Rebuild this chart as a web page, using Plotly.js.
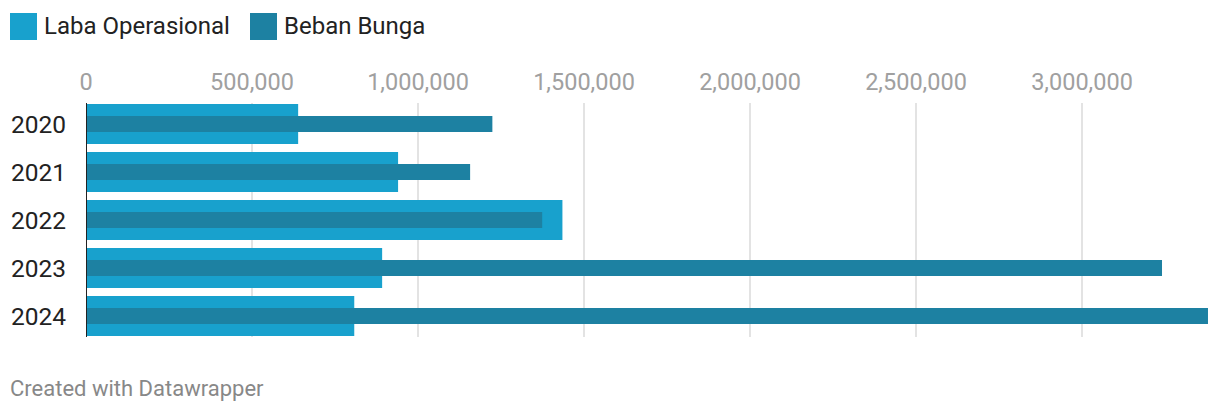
<!DOCTYPE html>
<html>
<head>
<meta charset="utf-8">
<script src="https://cdn.plot.ly/plotly-3.0.1.min.js"></script>
<style>
html,body{margin:0;padding:0;background:#fff;}
#chart{width:1220px;height:414px;}
</style>
</head>
<body>
<div id="chart"></div>
<script>
const years = ['2020', '2021', '2022', '2023', '2024'];
const labaOperasional = [639000, 940000, 1435000, 892000, 808000];
const bebanBunga = [1224000, 1157000, 1374000, 3241000, 3379500];
const seriesNames = ['Laba Operasional', 'Beban Bunga'];
const seriesColors = ['#18a1cd', '#1d81a2'];
const tickValues = [0, 500000, 1000000, 1500000, 2000000, 2500000, 3000000];

const traces = [
  {
    type: 'bar', orientation: 'h', name: seriesNames[0],
    y: years, x: labaOperasional, width: 0.833,
    marker: {color: seriesColors[0]}, hoverinfo: 'x+y'
  },
  {
    type: 'bar', orientation: 'h', name: seriesNames[1],
    y: years, x: bebanBunga, width: 0.333,
    marker: {color: seriesColors[1]}, hoverinfo: 'x+y'
  }
];

const legendShapes = [];
const legendAnn = [];
const legendX = [10, 250];
seriesNames.forEach((n, i) => {
  legendShapes.push({
    type: 'rect', xref: 'paper', yref: 'paper',
    x0: (legendX[i] - 86) / 1122, x1: (legendX[i] + 27 - 86) / 1122,
    y0: (414 - 77 - 40) / 234, y1: (414 - 77 - 13) / 234,
    fillcolor: seriesColors[i], line: {width: 0}
  });
  legendAnn.push({
    xref: 'paper', yref: 'paper',
    x: (legendX[i] + 32 - 86) / 1122, y: (414 - 77 - 26) / 234,
    xanchor: 'left', yanchor: 'middle', showarrow: false,
    text: n, font: {family: 'Roboto', size: 24, color: '#222'}
  });
});
legendAnn.push({
  xref: 'paper', yref: 'paper',
  x: (8 - 86) / 1122, y: (414 - 77 - 388) / 234,
  xanchor: 'left', yanchor: 'middle', showarrow: false,
  text: 'Created with Datawrapper', font: {family: 'Roboto', size: 22, color: '#888'}
});

const layout = {
  width: 1220, height: 414,
  margin: {l: 86, r: 12, t: 103, b: 77, pad: 0},
  paper_bgcolor: '#fff', plot_bgcolor: '#fff',
  font: {family: 'Roboto', color: '#222'},
  barmode: 'overlay',
  showlegend: false,
  xaxis: {
    side: 'top', range: [0, 3379518], tickvals: tickValues,
    tickformat: ',d', showgrid: true, gridcolor: '#e3e3e3', gridwidth: 2,
    zeroline: false, showline: false, ticks: '',
    tickfont: {family: 'Roboto', size: 23.5, color: '#a0a0a0'},
    ticklabelstandoff: 7, fixedrange: true
  },
  yaxis: {
    type: 'category', range: [4.4375, -0.4375],
    showgrid: false, zeroline: false, showline: false, ticks: '',
    tickfont: {family: 'Roboto', size: 24.5, color: '#222'},
    ticklabelstandoff: 19, fixedrange: true
  },
  shapes: legendShapes.concat([{
    type: 'line', xref: 'x', yref: 'paper', x0: 0, x1: 0, y0: 0, y1: 1,
    line: {color: '#222', width: 2}
  }]),
  annotations: legendAnn
};

Plotly.newPlot('chart', traces, layout, {displayModeBar: false, staticPlot: true});
</script>
</body>
</html>
